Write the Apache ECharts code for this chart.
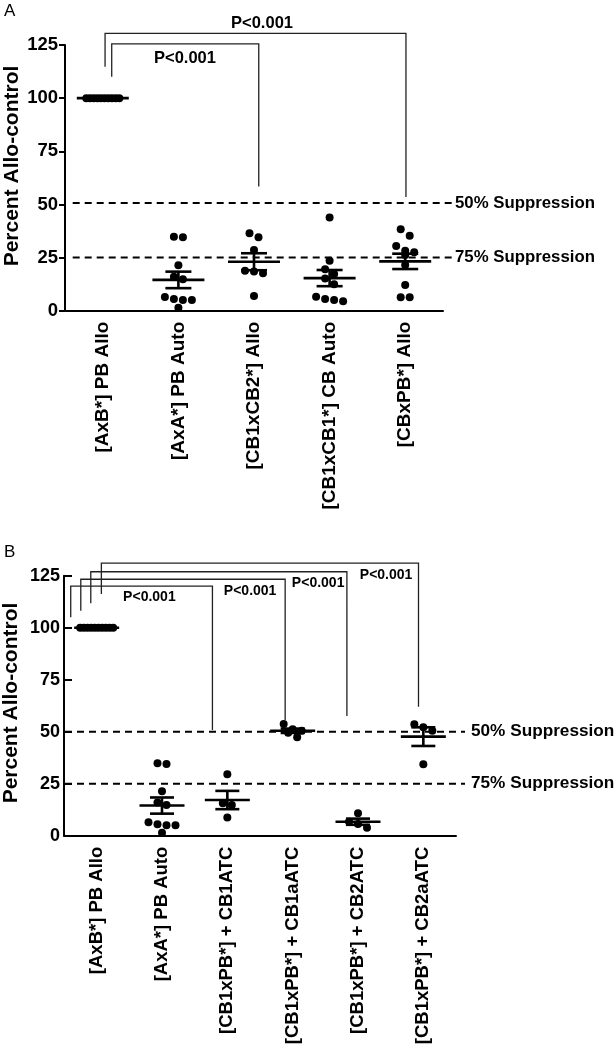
<!DOCTYPE html>
<html><head><meta charset="utf-8">
<script src="https://cdn.jsdelivr.net/npm/echarts@6/dist/echarts.min.js"></script>
<style>html,body{margin:0;padding:0;background:#fff}#c{width:615px;height:1050px}</style>
</head><body><div id="c"></div><script>
// ---------- DATA ----------
const categoriesA = ['[AxB*] PB Allo','[AxA*] PB Auto','[CB1xCB2*] Allo','[CB1xCB1*] CB Auto','[CBxPB*] Allo'];
const categoriesB = ['[AxB*] PB Allo','[AxA*] PB Auto','[CB1xPB*] + CB1ATC','[CB1xPB*] + CB1aATC','[CB1xPB*] + CB2ATC','[CB1xPB*] + CB2aATC'];
const yTickValues = [0,25,50,75,100,125];
const alloPB   = [100,100,100,100,100,100,100,100,100,100];
const autoPB   = [34.8,34.5,21.4,16.0,14.8,6.5,5.5,5.0,5.0,1.4];
const cb1xcb2  = [36.4,34.5,28.6,18.8,18.4,17.6,6.9];
const cb1xcb1  = [43.8,23.5,19.5,17.3,15.2,12.5,6.6,5.5,5.0,4.5];
const cbxpb    = [38.3,35.3,30.4,28.2,27.5,26.2,21.5,12.1,6.3,6.3];
const cb1atc   = [29.5,15.6,14.8,8.7];
const cb1aatc  = [53.7,51.2,50.5,49.5,47.3];
const cb2atc   = [10.8,6.7,5.6,3.8];
const cb2aatc  = [53.6,52.1,50.5,34.3];
const groupsA = [alloPB, autoPB, cb1xcb2, cb1xcb1, cbxpb];
const groupsB = [alloPB, autoPB, cb1atc, cb1aatc, cb2atc, cb2aatc];
const suppressionValuesA = [50.7, 25];
const suppressionValuesB = [50, 25];
const suppressionLabels = ['50% Suppression','75% Suppression'];
const pLabel = 'P<0.001';
// comparison brackets (category units / percent): [fromCat, toCat, top, fromEnd, toEnd, labelCat, labelValue]
const bracketsA = [[0.118,2.063,125.5,110.1,58.4,1.087,118.7],[0.03,4.01,130.5,114.8,53.5,2.106,135.1]];
const bracketsB = [[-0.397,1.772,120.0,105.0,50.8,0.807,114.8],
                   [-0.243,2.885,123.3,108.2,55.6,2.349,117.6],
                   [-0.09,3.83,126.9,111.7,57.5,3.39,121.2],
                   [0.072,4.926,131.0,116.2,62.0,4.43,125.1]];

// ---------- LAYOUT / STYLE ----------
const FONT = '"Liberation Sans", Arial, Helvetica, sans-serif';
const panels = [
  {grid:{left:65, top:45, width:378, height:265.7}, cats:categoriesA, groups:groupsA, refs:suppressionValuesA, brackets:bracketsA,
   xFont:19, yFont:18.5, pFont:16.5, refFont:16.8, meanHW:26, capHW:13, refStart:7.7, refExt:9, refGap:3, yTickInside:false, yTickLen:6,
   letter:'A', letterPos:[4,3], titlePos:[12.5,166]},
  {grid:{left:64, top:575.7, width:392, height:260}, cats:categoriesB, groups:groupsB, refs:suppressionValuesB, brackets:bracketsB,
   xFont:18.5, yFont:18, pFont:14, refFont:17.2, meanHW:22.5, capHW:12, refStart:1, refExt:9, refGap:6, yTickInside:true, yTickLen:8,
   letter:'B', letterPos:[4,544], titlePos:[11,703]}
];
const DOT = 8;

function stats(arr){
  const n = arr.length, m = arr.reduce((a,b)=>a+b,0)/n;
  const sd = n>1 ? Math.sqrt(arr.reduce((a,b)=>a+(b-m)*(b-m),0)/(n-1)) : 0;
  return [m, sd/Math.sqrt(n)];
}
function swarm(vals, pxPerUnit, pxPerCat){
  const order = vals.map((v,i)=>i).sort((a,b)=>vals[b]-vals[a]);
  const rows=[]; let row=[];
  order.forEach(i=>{
    if(row.length && (vals[row[0]]-vals[i])*pxPerUnit >= DOT){ rows.push(row); row=[]; }
    row.push(i);
  });
  if(row.length) rows.push(row);
  const off = vals.map(()=>0);
  rows.forEach(r=>{
    const k=r.length, s = k>1 ? Math.min(9, 33/(k-1)) : 0;
    r.forEach((i,j)=>{ off[i] = (j-(k-1)/2)*s/pxPerCat; });
  });
  return off;
}

const option = {animation:false, backgroundColor:'#fff', grid:[], xAxis:[], yAxis:[], series:[], graphic:[]};
panels.forEach((P,p)=>{
  const n = P.cats.length;
  option.grid.push(Object.assign({containLabel:false}, P.grid));
  option.xAxis.push({type:'category', gridIndex:p, data:P.cats, boundaryGap:true,
    axisLine:{onZero:false, lineStyle:{color:'#000', width:2}}, axisTick:{alignWithLabel:true, length:7, lineStyle:{color:'#000', width:2}},
    axisLabel:{interval:0, rotate:90, margin:11, color:'#000', fontSize:P.xFont, fontWeight:'bold', fontFamily:FONT},
    splitLine:{show:false}});
  option.xAxis.push({type:'value', gridIndex:p, min:-0.5, max:n-0.5, show:false});
  option.yAxis.push({type:'value', gridIndex:p, min:yTickValues[0], max:yTickValues[yTickValues.length-1], interval:yTickValues[1]-yTickValues[0],
    axisLine:{show:true, onZero:false, lineStyle:{color:'#000', width:2}}, axisTick:{show:true, inside:P.yTickInside, length:P.yTickLen, lineStyle:{color:'#000', width:2}},
    axisLabel:{margin:P.yTickInside?4:7, color:'#000', fontSize:P.yFont, fontWeight:'bold', fontFamily:FONT},
    splitLine:{show:false}});
  const pxPerUnit = P.grid.height/(yTickValues[yTickValues.length-1]-yTickValues[0]);
  const pxPerCat = P.grid.width/n;
  const xi = 2*p+1;
  // reference dashed lines
  option.series.push({type:'custom', xAxisIndex:xi, yAxisIndex:p, clip:false, silent:true, z:1,
    data:P.refs.map(v=>[0,v]),
    renderItem:(params, api)=>{
      const cs = params.coordSys; const y = api.coord([0, api.value(1)])[1];
      const x1 = cs.x + P.refStart, x2 = cs.x + cs.width + P.refExt;
      return {type:'group', children:[
        {type:'line', shape:{x1, y1:y, x2, y2:y}, style:{stroke:'#000', lineWidth:2, lineDash:[7,5]}},
        {type:'text', style:{text:suppressionLabels[params.dataIndex], x:x2+P.refGap, y:y, fill:'#000',
          font:'bold '+P.refFont+'px '+FONT, align:'left', verticalAlign:'middle', textAlign:'left', textVerticalAlign:'middle'}}
      ]};
    }});
  // dots
  const pts=[];
  P.groups.forEach((g,ci)=>{ const off = swarm(g, pxPerUnit, pxPerCat); g.forEach((v,k)=>pts.push([ci+off[k], v])); });
  option.series.push({type:'scatter', xAxisIndex:xi, yAxisIndex:p, data:pts, symbol:'circle', symbolSize:DOT,
    itemStyle:{color:'#000', opacity:1}, z:3, silent:true});
  // mean +/- SEM
  option.series.push({type:'custom', xAxisIndex:xi, yAxisIndex:p, clip:false, silent:true, z:4,
    data:P.groups.map((g,ci)=>{const s=stats(g); return [ci, s[0], s[1]];}),
    renderItem:(params, api)=>{
      const i=api.value(0), m=api.value(1), s=api.value(2);
      const c = api.coord([i,m]); const st={stroke:'#000', lineWidth:2.6};
      const ch=[{type:'line', shape:{x1:c[0]-P.meanHW, y1:c[1], x2:c[0]+P.meanHW, y2:c[1]}, style:st}];
      if(s>0.05){
        const t=api.coord([i,m+s])[1], b=api.coord([i,m-s])[1];
        ch.push({type:'line', shape:{x1:c[0], y1:t, x2:c[0], y2:b}, style:st});
        ch.push({type:'line', shape:{x1:c[0]-P.capHW, y1:t, x2:c[0]+P.capHW, y2:t}, style:st});
        ch.push({type:'line', shape:{x1:c[0]-P.capHW, y1:b, x2:c[0]+P.capHW, y2:b}, style:st});
      }
      return {type:'group', children:ch};
    }});
  // brackets
  option.series.push({type:'custom', xAxisIndex:xi, yAxisIndex:p, clip:false, silent:true, z:2,
    data:P.brackets,
    renderItem:(params, api)=>{
      const v=[0,1,2,3,4,5,6].map(k=>api.value(k));
      const a=api.coord([v[0],v[3]]), b=api.coord([v[0],v[2]]), c=api.coord([v[1],v[2]]), d=api.coord([v[1],v[4]]);
      const l=api.coord([v[5],v[6]]);
      return {type:'group', children:[
        {type:'polyline', shape:{points:[a,b,c,d]}, style:{stroke:'#222', lineWidth:1.3, fill:null}},
        {type:'text', style:{text:pLabel, x:l[0], y:l[1], fill:'#000', font:'bold '+P.pFont+'px '+FONT,
          align:'center', verticalAlign:'middle', textAlign:'center', textVerticalAlign:'middle'}}
      ]};
    }});
  option.graphic.push({type:'text', left:P.letterPos[0], top:P.letterPos[1], style:{text:P.letter, fill:'#000', font:'17px '+FONT}});
  option.graphic.push({type:'text', x:P.titlePos[0], y:P.titlePos[1], rotation:Math.PI/2,
    style:{text:'Percent Allo-control', fill:'#000', font:'bold 21px '+FONT, align:'center', verticalAlign:'middle', textAlign:'center', textVerticalAlign:'middle'}});
});
const chart = echarts.init(document.getElementById('c'), null, {renderer:'canvas'});
chart.setOption(option);
</script></body></html>
